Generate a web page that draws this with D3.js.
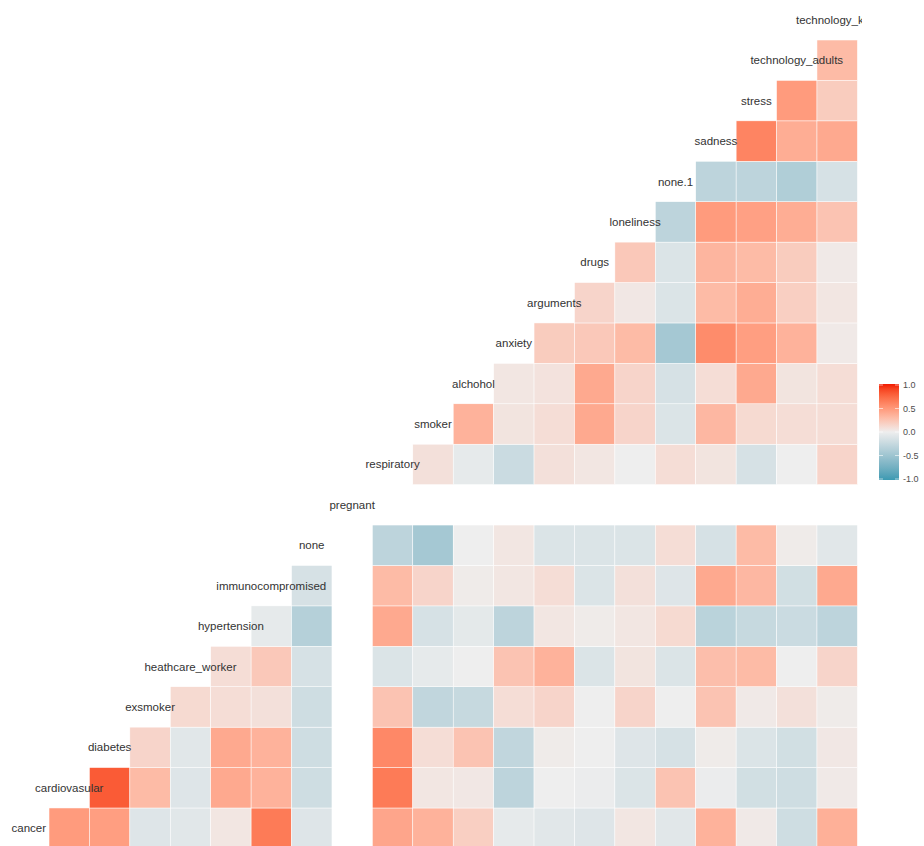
<!DOCTYPE html>
<html>
<head>
<meta charset="utf-8">
<script src="https://cdn.jsdelivr.net/npm/d3@7"></script>
<style>
  body { margin: 0; background: #fff; }
  text { font-family: "Liberation Sans", Arial, sans-serif; }
</style>
</head>
<body>
<script>
// variables, in plotting order (bottom-left to top-right)
var variables = ['cancer', 'cardiovasular', 'diabetes', 'exsmoker', 'heathcare_worker',
  'hypertension', 'immunocompromised', 'none', 'pregnant', 'respiratory', 'smoker',
  'alchohol', 'anxiety', 'arguments', 'drugs', 'loneliness', 'none.1', 'sadness',
  'stress', 'technology_adults', 'technology_kids'];

// correlations of each variable with the ones after it (row r -> columns r+1..20)
// pregnant has no variance, so its values are missing
var corr = [
  [0.48, 0.46, -0.1, -0.08, 0.05, 0.65, -0.1, null, 0.42, 0.35, 0.18, -0.05, -0.08, -0.1, 0.05, -0.08, 0.35, 0.03, -0.2, 0.36],
  [0.8, 0.3, -0.1, 0.4, 0.35, -0.2, null, 0.65, 0.05, 0.04, -0.3, 0.0, -0.02, -0.12, 0.25, -0.02, -0.18, -0.2, 0.03],
  [0.15, -0.08, 0.4, 0.35, -0.2, null, 0.58, 0.1, 0.25, -0.28, 0.02, 0.0, -0.1, -0.15, 0.02, -0.12, -0.18, 0.04],
  [0.12, 0.1, 0.08, -0.2, null, 0.25, -0.28, -0.25, 0.1, 0.15, 0.0, 0.15, 0.0, 0.25, 0.03, 0.08, 0.02],
  [0.1, 0.22, -0.15, null, -0.12, -0.05, 0.0, 0.25, 0.35, -0.12, 0.06, -0.12, 0.28, 0.3, 0.0, 0.15],
  [-0.05, -0.35, null, 0.4, -0.15, -0.06, -0.3, 0.05, 0.02, 0.05, 0.12, -0.32, -0.25, -0.22, -0.3],
  [-0.15, null, 0.3, 0.15, 0.02, 0.05, 0.1, -0.12, 0.08, -0.1, 0.4, 0.32, -0.18, 0.4],
  [null, -0.3, -0.45, 0.0, 0.05, -0.12, -0.12, -0.12, 0.1, -0.15, 0.3, 0.02, -0.08],
  [null, null, null, null, null, null, null, null, null, null, null, null],
  [0.08, -0.05, -0.22, 0.08, 0.05, 0.0, 0.1, 0.06, -0.15, 0.0, 0.15],
  [0.35, 0.06, 0.1, 0.4, 0.15, -0.12, 0.32, 0.12, 0.1, 0.1],
  [0.05, 0.07, 0.4, 0.15, -0.15, 0.1, 0.4, 0.06, 0.1],
  [0.2, 0.22, 0.3, -0.45, 0.56, 0.46, 0.35, 0.03],
  [0.15, 0.04, -0.12, 0.3, 0.38, 0.18, 0.05],
  [0.22, -0.12, 0.33, 0.3, 0.2, 0.03],
  [-0.3, 0.48, 0.45, 0.38, 0.25],
  [-0.3, -0.3, -0.38, -0.15],
  [0.6, 0.38, 0.4],
  [0.48, 0.2],
  [0.3]
];

var legendTicks = [-1, -0.5, 0, 0.5, 1];

var width = 924, height = 846;

var svg = d3.select('body').append('svg')
  .attr('width', width)
  .attr('height', height);

var x = d3.scaleBand().domain(variables).range([8.6, 857.4]);
var y = d3.scaleBand().domain(variables).range([848.4, -0.4]);

var color = d3.scaleLinear()
  .domain([-1, 0, 1])
  .range(['#3B9AB2', '#EEEEEE', '#F21A00'])
  .interpolate(d3.interpolateLab);

// flatten into cells
var cells = [];
corr.forEach(function(row, r) {
  row.forEach(function(v, k) {
    var c = r + 1 + k;
    if (v !== null) cells.push({ col: variables[c], row: variables[r], value: v });
  });
});

svg.append('clipPath').attr('id', 'panel')
  .append('rect')
  .attr('x', 0).attr('y', 0)
  .attr('width', 862).attr('height', height);

var panel = svg.append('g').attr('clip-path', 'url(#panel)');

panel.selectAll('rect.cell')
  .data(cells)
  .enter().append('rect')
  .attr('class', 'cell')
  .attr('x', function(d) { return x(d.col); })
  .attr('y', function(d) { return y(d.row); })
  .attr('width', x.bandwidth())
  .attr('height', y.bandwidth())
  .style('fill', function(d) { return color(d.value); })
  .style('stroke', '#fff')
  .style('stroke-width', 0.5);

// labels on the diagonal
panel.selectAll('text.label')
  .data(variables)
  .enter().append('text')
  .attr('class', 'label')
  .attr('x', function(d) { return x(d) + x.bandwidth() / 2; })
  .attr('y', function(d) { return y(d) + y.bandwidth() / 2; })
  .attr('dy', '0.35em')
  .attr('text-anchor', 'middle')
  .style('font-size', '11.5px')
  .style('fill', '#333')
  .text(function(d) { return d; });

// colour bar legend
var ly = d3.scaleLinear().domain([-1, 1]).range([479, 385]);
var defs = svg.append('defs');
var grad = defs.append('linearGradient')
  .attr('id', 'bar')
  .attr('x1', 0).attr('y1', 1).attr('x2', 0).attr('y2', 0);
d3.range(0, 1.0001, 0.05).forEach(function(t) {
  grad.append('stop')
    .attr('offset', t)
    .attr('stop-color', color(-1 + 2 * t));
});

var legend = svg.append('g');
legend.append('rect')
  .attr('x', 879)
  .attr('y', ly(1) - 1)
  .attr('width', 20)
  .attr('height', ly(-1) - ly(1) + 2)
  .style('fill', 'url(#bar)');

legendTicks.forEach(function(t) {
  legend.append('line')
    .attr('x1', 879).attr('x2', 883)
    .attr('y1', ly(t)).attr('y2', ly(t))
    .style('stroke', '#fff').style('stroke-width', 0.6);
  legend.append('line')
    .attr('x1', 895).attr('x2', 899)
    .attr('y1', ly(t)).attr('y2', ly(t))
    .style('stroke', '#fff').style('stroke-width', 0.6);
});

legend.selectAll('text.tick')
  .data(legendTicks)
  .enter().append('text')
  .attr('class', 'tick')
  .attr('x', 903)
  .attr('y', function(d) { return ly(d); })
  .attr('dy', '0.35em')
  .style('font-size', '9px')
  .style('fill', '#4d4d4d')
  .text(function(d) { return d.toFixed(1); });
</script>
</body>
</html>
